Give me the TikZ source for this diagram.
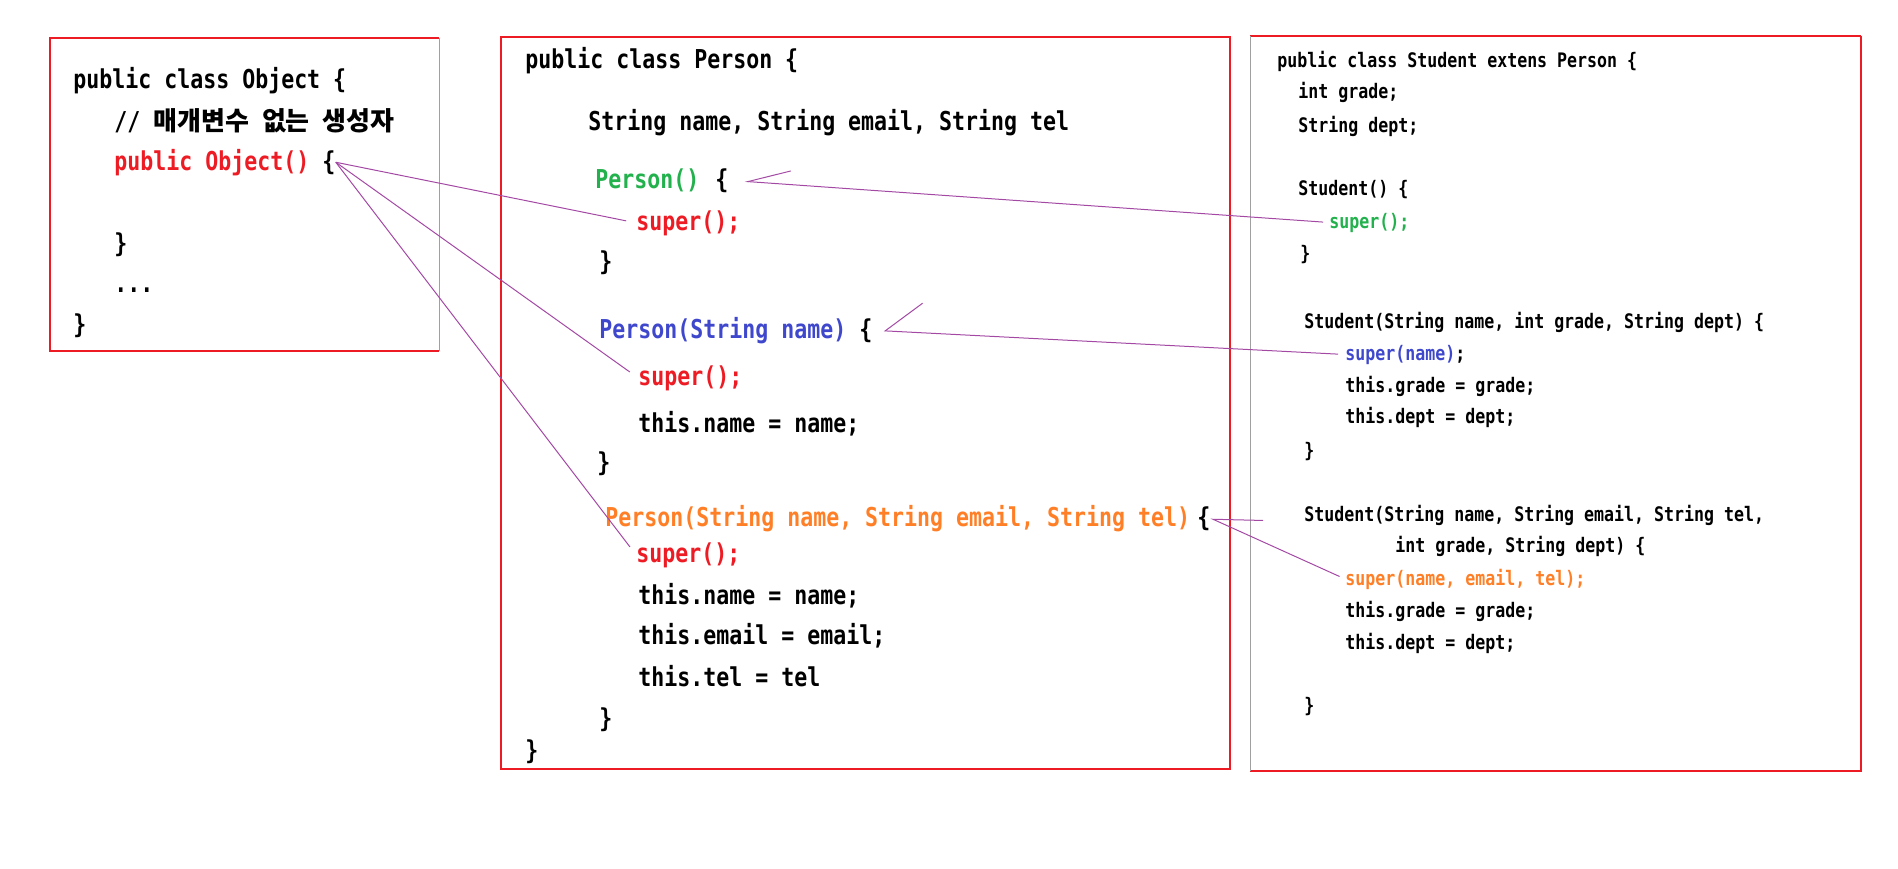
\documentclass[tikz,border=0pt]{standalone}
\usepackage{fontspec}
\setmonofont[FakeStretch=0.83]{DejaVu Sans Mono}
\newfontfamily\kr{Noto Sans CJK KR}
\usetikzlibrary{arrows.meta}
\definecolor{jred}{HTML}{ED1C24}
\definecolor{jgreen}{HTML}{22B14C}
\definecolor{jblue}{HTML}{3F48CC}
\definecolor{jorange}{HTML}{FF7F27}
\definecolor{jpurple}{HTML}{A349A4}
\definecolor{jgrey}{HTML}{A0A0A0}
\tikzstyle{code} = [anchor=base west, inner sep=0pt, font=\ttfamily\bfseries\fontsize{13}{13}\selectfont]
\tikzstyle{small} = [anchor=base west, inner sep=0pt, font=\ttfamily\bfseries\fontsize{10}{10}\selectfont]
\tikzstyle{frame} = [draw=jred, line width=0.75pt]
\tikzstyle{greyside} = [draw=jgrey, line width=0.5pt]
\tikzstyle{callline} = [draw=jpurple, line width=0.5pt]

\begin{document}
\begin{tikzpicture}[x=0.5pt, y=-0.5pt]

            \useasboundingbox (0,0) rectangle (1898,868);

            %% Object

            \draw [frame] (439,351) -- (50,351) -- (50,38) -- (439,38);
            \draw [greyside] (439,38) -- (439,351);

            \node (objhead) [code] at (73,88) {public class Object \{};
            \node (objcmt) [code] at (114,130) {// {\kr 매개변수} {\kr 없는} {\kr 생성자}};
            \node (objctor) [code, jred] at (114,170) {public Object()};
            \node (objbrace) [code] at (322,170) {\{};
            \node (objclose) [code] at (114,252) {\}};
            \node (objdots) [code] at (114,292) {...};
            \node (objend) [code] at (73,333) {\}};

            %% Person

            \draw [frame] (501,37) rectangle (1230,769);

            \node (perhead) [code] at (525,68) {public class Person \{};
            \node (perfields) [code] at (588,130) {String name, String email, String tel};

            \node (pctor1) [code, jgreen] at (595,188) {Person()};
            \node (pbrace1) [code] at (715,188) {\{};
            \node (psup1) [code, jred] at (636,230) {super();};
            \node (pclose1) [code] at (599,270) {\}};

            \node (pctor2) [code, jblue] at (599,338) {Person(String name)};
            \node (pbrace2) [code] at (859,338) {\{};
            \node (psup2) [code, jred] at (638,385) {super();};
            \node (pset21) [code] at (638,432) {this.name = name;};
            \node (pclose2) [code] at (597,471) {\}};

            \node (pctor3) [code, jorange] at (605,526) {Person(String name, String email, String tel)};
            \node (pbrace3) [code] at (1197,526) {\{};
            \node (psup3) [code, jred] at (636,562) {super();};
            \node (pset31) [code] at (638,604) {this.name = name;};
            \node (pset32) [code] at (638,644) {this.email = email;};
            \node (pset33) [code] at (638,686) {this.tel = tel};
            \node (pclose3) [code] at (599,727) {\}};
            \node (perend) [code] at (525,759) {\}};

            %% Student

            \draw [frame] (1861,36) -- (1250,36) (1250,771) -- (1861,771) -- (1861,36);
            \draw [greyside] (1250,36) -- (1250,771);

            \node (stuhead) [small] at (1277,67) {public class Student extens Person \{};
            \node (stugrade) [small] at (1298,98) {int grade;};
            \node (studept) [small] at (1298,132) {String dept;};

            \node (sctor1) [small] at (1298,195) {Student() \{};
            \node (ssup1) [small, jgreen] at (1329,228) {super();};
            \node (sclose1) [small] at (1300,260) {\}};

            \node (sctor2) [small] at (1304,328) {Student(String name, int grade, String dept) \{};
            \node (ssup2) [small, jblue] at (1345,360) {super(name)};
            \node (ssemi2) [small] at (1455,360) {;};
            \node (sset21) [small] at (1345,392) {this.grade = grade;};
            \node (sset22) [small] at (1345,423) {this.dept = dept;};
            \node (sclose2) [small] at (1304,457) {\}};

            \node (sctor3) [small] at (1304,521) {Student(String name, String email, String tel,};
            \node (sctor3b) [small] at (1395,552) {int grade, String dept) \{};
            \node (ssup3) [small, jorange] at (1345,585) {super(name, email, tel);};
            \node (sset31) [small] at (1345,617) {this.grade = grade;};
            \node (sset32) [small] at (1345,649) {this.dept = dept;};
            \node (sclose3) [small] at (1304,712) {\}};

            %% calls

            \draw [callline, shorten >=5pt] (objbrace.east) -- (psup1.west);
            \draw [callline, shorten >=5pt] (objbrace.east) -- (psup2.west);
            \draw [callline, shorten >=5pt] (objbrace.east) -- (psup3.west);

            \draw [callline, shorten <=3pt, shorten >=8pt, -{Straight Barb[right, length=21pt, width=13.6pt]}] (ssup1.west) -- (pbrace1.east);
            \draw [callline, shorten <=3.5pt, shorten >=5.5pt, -{Straight Barb[right, length=18pt, width=29.6pt]}] (ssup2.west) -- (pbrace2.east);
            \draw [callline, shorten <=3pt, -{Straight Barb[right, length=23pt, width=19.5pt]}] (ssup3.west) -- (pbrace3.east);

\end{tikzpicture}
\end{document}
